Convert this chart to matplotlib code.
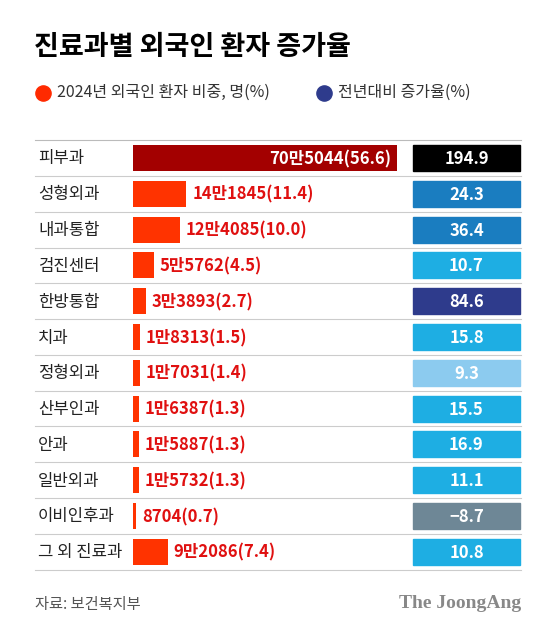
import matplotlib
matplotlib.use("Agg")
import matplotlib.pyplot as plt
from matplotlib.patches import Rectangle

plt.rcParams['font.family'] = ['Noto Sans CJK KR', 'DejaVu Sans']

categories = ['피부과', '성형외과', '내과통합', '검진센터', '한방통합', '치과', '정형외과',
              '산부인과', '안과', '일반외과', '이비인후과', '그 외 진료과']
shares = [56.6, 11.4, 10.0, 4.5, 2.7, 1.5, 1.4, 1.3, 1.3, 1.3, 0.7, 7.4]
share_labels = ['70만5044(56.6)', '14만1845(11.4)', '12만4085(10.0)', '5만5762(4.5)',
                '3만3893(2.7)', '1만8313(1.5)', '1만7031(1.4)', '1만6387(1.3)',
                '1만5887(1.3)', '1만5732(1.3)', '8704(0.7)', '9만2086(7.4)']
growth = [194.9, 24.3, 36.4, 10.7, 84.6, 15.8, 9.3, 15.5, 16.9, 11.1, -8.7, 10.8]
growth_colors = ['#000000', '#1a7dc0', '#1a7dc0', '#1eaee3', '#2e3b8c', '#1eaee3',
                 '#8ccbef', '#1eaee3', '#1eaee3', '#1eaee3', '#6e8796', '#1eaee3']

fig = plt.figure(figsize=(5.59, 6.35), dpi=100)
ax = fig.add_axes([0, 0, 1, 1])
ax.set_xlim(0, 559)
ax.set_ylim(635, 0)
ax.axis('off')

ax.text(34, 47, '진료과별 외국인 환자 증가율', fontsize=19.5, fontweight='black', va='center')
ax.scatter([43], [93], s=120, color='#ff2a00')
ax.text(57, 92, '2024년 외국인 환자 비중, 명(%)', fontsize=11.5, va='center', color='#333333')
ax.scatter([324], [93], s=120, color='#2e3b8c')
ax.text(338, 92, '전년대비 증가율(%)', fontsize=11.5, va='center', color='#333333')

row0, step, h = 158, 35.8, 26
bar_left, scale = 133, 264 / 56.6
box_l, box_w = 413, 107
ax.plot([35, 521], [row0 - step / 2, row0 - step / 2], color='#bbbbbb', lw=0.8)
for i, (c, s, lab, g, gc) in enumerate(zip(categories, shares, share_labels, growth, growth_colors)):
    y = row0 + i * step
    ax.text(38, y + 1, c, fontsize=12, va='center', color='#222222')
    big = s > 30
    ax.barh(y, s * scale, left=bar_left, height=h, color='#a30000' if big else '#ff3300')
    if big:
        ax.text(bar_left + s * scale - 6, y + 1, lab, ha='right', va='center', color='white',
                fontsize=12, fontweight='black')
    else:
        ax.text(bar_left + s * scale + 6, y + 1, lab, ha='left', va='center', color='#e01010',
                fontsize=12, fontweight='black')
    ax.add_patch(Rectangle((box_l, y - h / 2), box_w, h, color=gc))
    ax.text(box_l + box_w / 2, y + 1, f'{g:.1f}'.replace('-', '−'), ha='center', va='center',
            color='white', fontsize=12, fontweight='black')
    ax.plot([35, 521], [y + step / 2, y + step / 2], color='#cccccc', lw=0.8)

ax.text(35, 604, '자료: 보건복지부', fontsize=11, va='center', color='#555555')
ax.text(521, 604, 'The JoongAng', fontsize=14, va='center', ha='right', color='#888888',
        family='Liberation Serif', fontweight='bold')

fig.savefig('out.png', dpi=100)
